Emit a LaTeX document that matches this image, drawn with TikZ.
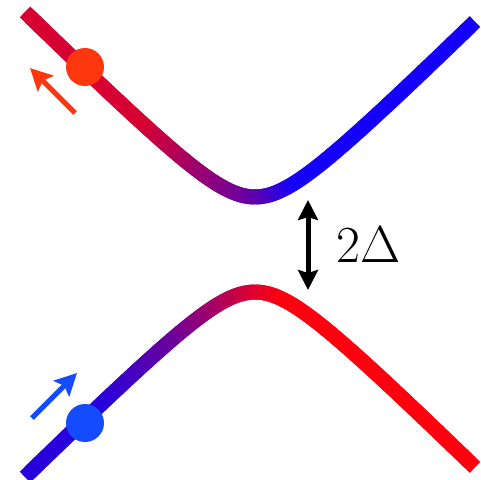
\RequirePackage{fix-cm}
\documentclass[tikz,border=0pt]{standalone}
\usetikzlibrary{arrows.meta}
\definecolor{upR}{RGB}{215,0,50}
\definecolor{upB}{RGB}{20,0,250}
\definecolor{loR}{RGB}{255,0,15}
\definecolor{loB}{RGB}{40,0,220}
\definecolor{dotR}{RGB}{255,55,15}
\definecolor{dotB}{RGB}{20,75,255}
\begin{document}
\begin{tikzpicture}[x=1pt,y=-1pt,
  seg/.style={line width=15pt, line join=round, line cap=butt},
  arr/.style={line width=5pt},
  dot/.style={circle, inner sep=0pt, minimum size=38pt}]
\useasboundingbox (0,0) rectangle (481,479);
\foreach \i in {0,...,88}{
  \pgfmathsetmacro{\da}{5*\i-230}
  \pgfmathsetmacro{\db}{\da+5}
  \pgfmathsetmacro{\dc}{\da+10}
  \pgfmathsetmacro{\ha}{100*sqrt(0.98*(\da/100)*(\da/100)+0.2256)}
  \pgfmathsetmacro{\hb}{100*sqrt(0.98*(\db/100)*(\db/100)+0.2256)}
  \pgfmathsetmacro{\hc}{100*sqrt(0.98*(\dc/100)*(\dc/100)+0.2256)}
  \pgfmathsetmacro{\pu}{int(max(0,min(100,100-0.5455*(\db+110),40-(\db))))}
  \pgfmathsetmacro{\pl}{int(max(0,min(100,85+0.5*(\db),max(0.4667*(\db+150),35+0.6667*(\db+75)))))}
  \draw[seg, color=upR!\pu!upB] (255+\da,244.5-\ha) -- (255+\db,244.5-\hb) -- (255+\dc,244.5-\hc);
  \draw[seg, color=loR!\pl!loB] (255+\da,244.5+\ha) -- (255+\db,244.5+\hb) -- (255+\dc,244.5+\hc);
}
\node[dot, fill=dotR] (rdot) at (85,67) {};
\node[dot, fill=dotB] (bdot) at (85,423) {};
\coordinate (rtail) at (75,113);
\coordinate (rtip) at (30,68);
\coordinate (btail) at (32,418);
\coordinate (btip) at (77,373);
\draw[arr, dotR, -{Stealth[length=22pt,width=22pt,inset=4pt]}] (rtail) -- (rtip);
\draw[arr, dotB, -{Stealth[length=22pt,width=22pt,inset=4pt]}] (btail) -- (btip);
\coordinate (gt) at (308,200);
\coordinate (gb) at (308,290);
\draw[arr, black, {Stealth[length=20pt,width=20pt,inset=3pt]}-{Stealth[length=20pt,width=20pt,inset=3pt]}] (gt) -- (gb);
\node[anchor=base west, inner sep=0pt, font=\fontsize{52}{60}\selectfont] (lbl) at (336,262) {$2\Delta$};
\end{tikzpicture}
\end{document}
